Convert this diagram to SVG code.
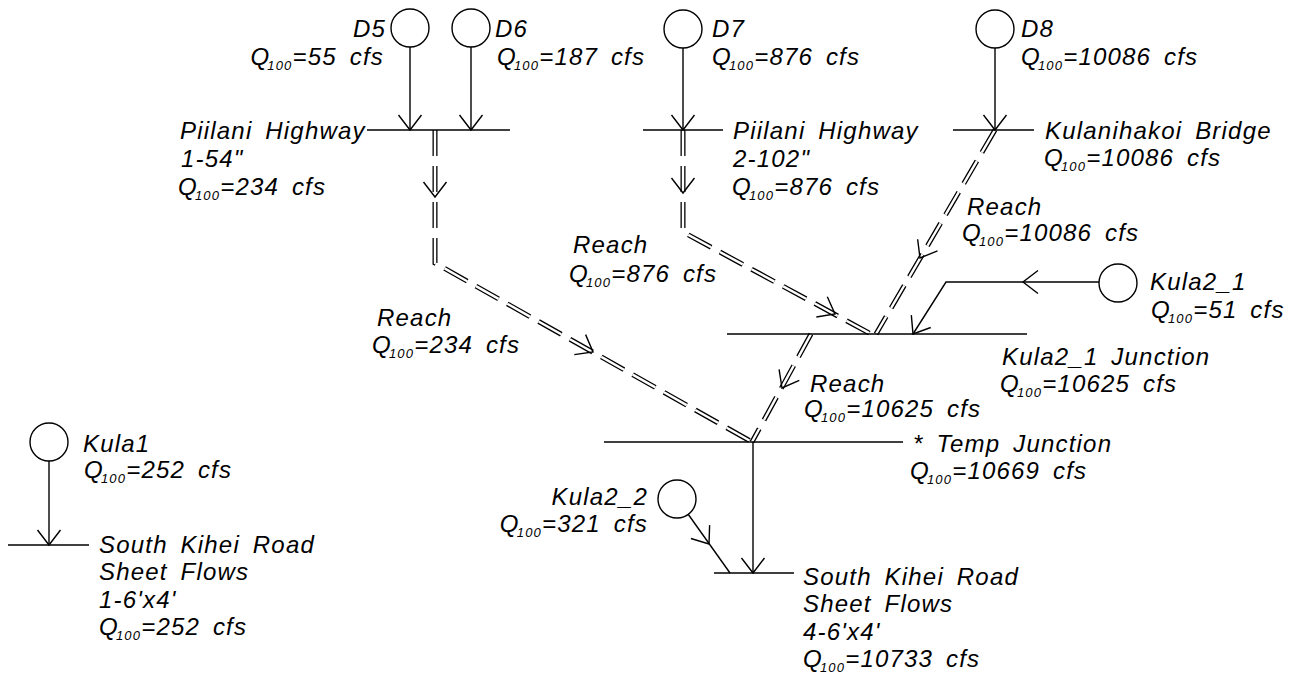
<svg xmlns="http://www.w3.org/2000/svg" xmlns:xlink="http://www.w3.org/1999/xlink" width="1303" height="681" viewBox="0 0 1303 681">
<style>
.ln{stroke:#000;stroke-width:1.4;fill:none}
.rb{stroke:#000;stroke-width:5;fill:none;stroke-dasharray:26 10;stroke-linejoin:miter}
.rw{stroke:#fff;stroke-width:2.4;fill:none;stroke-dasharray:26 10;stroke-linejoin:miter}
text{font-family:"Liberation Sans",Arial,sans-serif;font-style:italic;font-size:24px;letter-spacing:1.2px;word-spacing:5px;fill:#000}
.sub{font-size:13px}
.e{text-anchor:end}
</style>
<defs>
<path id="chev" d="M-15,-11.5 L0,0 L-15,11.5" style="stroke:#000;stroke-width:1.4;fill:none"/>
</defs>
<rect width="1303" height="681" fill="#fff"/>
<g id="connectors">
  <g id="reaches">
    <path class="rb" d="M435,130 V263 L752,442"/>
    <path class="rw" d="M435,130 V263 L752,442"/>
    <path class="rb" d="M683,130 V232 L871,334"/>
    <path class="rw" d="M683,130 V232 L871,334"/>
    <path class="rb" d="M995,130 L876,334"/>
    <path class="rw" d="M995,130 L876,334"/>
    <path class="rb" d="M811,334 L752,442"/>
    <path class="rw" d="M811,334 L752,442"/>
  </g>
  <g id="flows">
    <path class="ln" d="M410,47 V130"/>
    <path class="ln" d="M471,47 V130"/>
    <path class="ln" d="M683,48 V130"/>
    <path class="ln" d="M995,48 V130"/>
    <path class="ln" d="M49,461 V545"/>
    <path class="ln" d="M753,442 V573"/>
    <path class="ln" d="M1099,282 H946 L913,334"/>
    <path class="ln" d="M688,514 L730,573"/>
  </g>
  <g id="arrowheads">
    <use xlink:href="#chev" transform="translate(410,130) rotate(90)"/>
    <use xlink:href="#chev" transform="translate(471,130) rotate(90)"/>
    <use xlink:href="#chev" transform="translate(683,130) rotate(90)"/>
    <use xlink:href="#chev" transform="translate(995,130) rotate(90)"/>
    <use xlink:href="#chev" transform="translate(49,545) rotate(90)"/>
    <use xlink:href="#chev" transform="translate(753,573) rotate(90)"/>
    <use xlink:href="#chev" transform="translate(1023,282) rotate(180)"/>
    <use xlink:href="#chev" transform="translate(913,334) rotate(122.4)"/>
    <use xlink:href="#chev" transform="translate(709,544) rotate(54.4)"/>
    <use xlink:href="#chev" transform="translate(435,197) rotate(90)"/>
    <use xlink:href="#chev" transform="translate(593,352) rotate(29.5)"/>
    <use xlink:href="#chev" transform="translate(683,193) rotate(90)"/>
    <use xlink:href="#chev" transform="translate(835,314) rotate(28.5)"/>
    <use xlink:href="#chev" transform="translate(920,258) rotate(120.3)"/>
    <use xlink:href="#chev" transform="translate(782,388) rotate(118.6)"/>
  </g>
  <g id="reach-labels">
    <text x="377" y="326">Reach</text>
    <text x="372" y="353">Q<tspan class="sub" dx="-3" dy="5">100</tspan><tspan dy="-5">=234 cfs</tspan></text>
    <text x="573" y="253">Reach</text>
    <text x="569" y="282">Q<tspan class="sub" dx="-3" dy="5">100</tspan><tspan dy="-5">=876 cfs</tspan></text>
    <text x="967" y="215">Reach</text>
    <text x="962" y="241">Q<tspan class="sub" dx="-3" dy="5">100</tspan><tspan dy="-5">=10086 cfs</tspan></text>
    <text x="810" y="392">Reach</text>
    <text x="804" y="417">Q<tspan class="sub" dx="-3" dy="5">100</tspan><tspan dy="-5">=10625 cfs</tspan></text>
  </g>
</g>
<g id="D5">
  <circle class="ln" cx="410" cy="28" r="19"/>
  <text class="e" x="386" y="37">D5</text>
  <text class="e" x="384" y="65">Q<tspan class="sub" dx="-3" dy="5">100</tspan><tspan dy="-5">=55 cfs</tspan></text>
</g>
<g id="D6">
  <circle class="ln" cx="471" cy="28" r="19"/>
  <text x="495" y="37">D6</text>
  <text x="497" y="65">Q<tspan class="sub" dx="-3" dy="5">100</tspan><tspan dy="-5">=187 cfs</tspan></text>
</g>
<g id="D7">
  <circle class="ln" cx="683" cy="29" r="19"/>
  <text x="712" y="37">D7</text>
  <text x="712" y="65">Q<tspan class="sub" dx="-3" dy="5">100</tspan><tspan dy="-5">=876 cfs</tspan></text>
</g>
<g id="D8">
  <circle class="ln" cx="995" cy="29" r="19"/>
  <text x="1021" y="37">D8</text>
  <text x="1021" y="65">Q<tspan class="sub" dx="-3" dy="5">100</tspan><tspan dy="-5">=10086 cfs</tspan></text>
</g>
<g id="piilani-highway-1">
  <path class="ln" d="M367,130 H510"/>
  <text x="180" y="139">Piilani Highway</text>
  <text x="181" y="167">1-54&quot;</text>
  <text x="178" y="195">Q<tspan class="sub" dx="-3" dy="5">100</tspan><tspan dy="-5">=234 cfs</tspan></text>
</g>
<g id="piilani-highway-2">
  <path class="ln" d="M643,130 H723"/>
  <text x="733" y="139">Piilani Highway</text>
  <text x="733" y="167">2-102&quot;</text>
  <text x="732" y="195">Q<tspan class="sub" dx="-3" dy="5">100</tspan><tspan dy="-5">=876 cfs</tspan></text>
</g>
<g id="kulanihakoi-bridge">
  <path class="ln" d="M953,130 H1034"/>
  <text x="1045" y="139">Kulanihakoi Bridge</text>
  <text x="1044" y="166">Q<tspan class="sub" dx="-3" dy="5">100</tspan><tspan dy="-5">=10086 cfs</tspan></text>
</g>
<g id="kula2_1">
  <circle class="ln" cx="1118" cy="283" r="19"/>
  <text x="1150" y="290">Kula2_1</text>
  <text x="1151" y="318">Q<tspan class="sub" dx="-3" dy="5">100</tspan><tspan dy="-5">=51 cfs</tspan></text>
</g>
<g id="kula2_1-junction">
  <path class="ln" d="M727,334 H1027"/>
  <text x="1002" y="365">Kula2_1 Junction</text>
  <text x="1000" y="392">Q<tspan class="sub" dx="-3" dy="5">100</tspan><tspan dy="-5">=10625 cfs</tspan></text>
</g>
<g id="temp-junction">
  <path class="ln" d="M604,442 H903"/>
  <text x="913" y="452">* Temp Junction</text>
  <text x="910" y="479">Q<tspan class="sub" dx="-3" dy="5">100</tspan><tspan dy="-5">=10669 cfs</tspan></text>
</g>
<g id="kula2_2">
  <circle class="ln" cx="677" cy="499" r="19"/>
  <text class="e" x="648" y="505">Kula2_2</text>
  <text class="e" x="648" y="532">Q<tspan class="sub" dx="-3" dy="5">100</tspan><tspan dy="-5">=321 cfs</tspan></text>
</g>
<g id="south-kihei-road-2">
  <path class="ln" d="M714,573 H794"/>
  <text x="803" y="585">South Kihei Road</text>
  <text x="803" y="612">Sheet Flows</text>
  <text x="803" y="640">4-6'x4'</text>
  <text x="803" y="667">Q<tspan class="sub" dx="-3" dy="5">100</tspan><tspan dy="-5">=10733 cfs</tspan></text>
</g>
<g id="kula1">
  <circle class="ln" cx="49" cy="442" r="19"/>
  <text x="83" y="452">Kula1</text>
  <text x="84" y="478">Q<tspan class="sub" dx="-3" dy="5">100</tspan><tspan dy="-5">=252 cfs</tspan></text>
</g>
<g id="south-kihei-road-1">
  <path class="ln" d="M8,545 H89"/>
  <text x="99" y="553">South Kihei Road</text>
  <text x="99" y="580">Sheet Flows</text>
  <text x="99" y="608">1-6'x4'</text>
  <text x="99" y="635">Q<tspan class="sub" dx="-3" dy="5">100</tspan><tspan dy="-5">=252 cfs</tspan></text>
</g>
</svg>
